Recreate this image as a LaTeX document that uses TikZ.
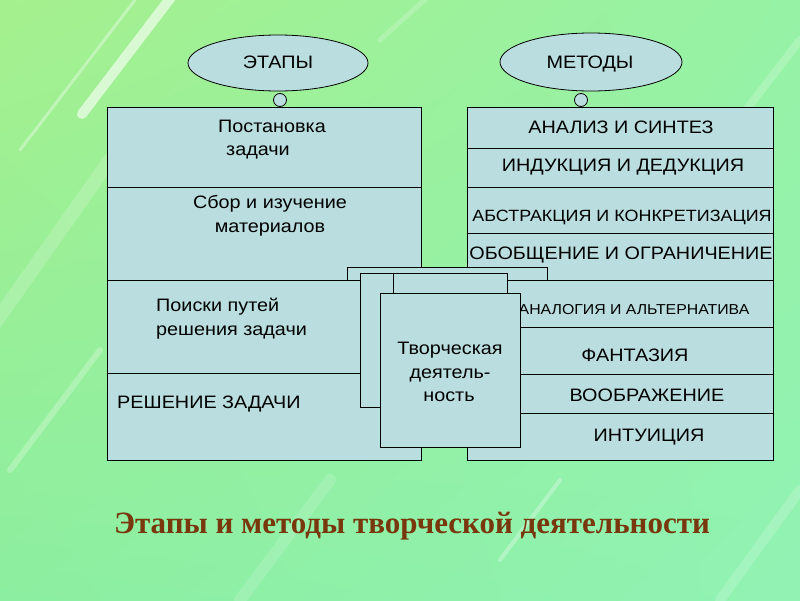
\documentclass[tikz,border=0pt]{standalone}
\usepackage{fontspec}
\setmainfont[FakeStretch=1.1]{Liberation Sans}
\newfontfamily\titlefont{Liberation Serif}
\usetikzlibrary{shapes.geometric,shadings}
\definecolor{boxfill}{RGB}{186,222,224}
\definecolor{bgUL}{RGB}{165,240,142}
\definecolor{bgUR}{RGB}{150,242,165}
\definecolor{bgLL}{RGB}{140,238,160}
\definecolor{bgLR}{RGB}{145,242,180}
\definecolor{titlec}{RGB}{120,55,12}
\tikzset{
  cell/.style={draw=black, fill=boxfill, line width=0.9pt, inner sep=0pt, anchor=north west},
  oval/.style={ellipse, draw=black, fill=boxfill, line width=0.8pt, inner sep=0pt},
  knob/.style={circle, draw=black, fill=boxfill, line width=0.8pt, inner sep=0pt, minimum size=13pt},
  lbl/.style={inner sep=0pt, anchor=base, font=\fontsize{18}{20}\selectfont},
  lblw/.style={lbl, anchor=base west},
  streak/.style={white, line cap=round}
}
\begin{document}
\begin{tikzpicture}[x=1pt,y=-1pt]
\useasboundingbox (0,0) rectangle (800,600);
\shade[upper left=bgUL, upper right=bgUR, lower left=bgLL, lower right=bgLR] (0,0) rectangle (800,600);
% light streaks
\draw[streak, line width=10pt, opacity=0.6] (82,114) -- (172,-4);
\draw[streak, line width=3pt, opacity=0.35] (20,150) -- (135,0);
\draw[streak, line width=14pt, opacity=0.18] (-10,330) -- (110,160);
\draw[streak, line width=6pt, opacity=0.25] (10,470) -- (100,350);
\draw[streak, line width=4pt, opacity=0.3] (500,560) -- (560,480);
\draw[streak, line width=12pt, opacity=0.15] (240,600) -- (330,480);
\draw[streak, line width=8pt, opacity=0.2] (700,170) -- (800,40);
\draw[streak, line width=10pt, opacity=0.18] (720,600) -- (800,490);
\draw[streak, line width=5pt, opacity=0.2] (380,40) -- (430,-5);

% ovals
\node[oval, minimum width=180pt, minimum height=56pt] (etapy) at (278,63) {};
\node[oval, minimum width=182pt, minimum height=58pt] (metody) at (591,62) {};
\node[lbl] at (278,68) {ЭТАПЫ};
\node[lbl] at (590,68) {МЕТОДЫ};

% left column
\node[cell, minimum width=314pt, minimum height=80pt] (l1) at (107,107) {};
\node[cell, minimum width=314pt, minimum height=93pt] (l2) at (107,187) {};
\node[cell, minimum width=314pt, minimum height=93pt] (l3) at (107,280) {};
\node[cell, minimum width=314pt, minimum height=87pt] (l4) at (107,373) {};
\node[lbl] at (272,132) {Постановка};
\node[lbl] at (258,155) {задачи};
\node[lbl] at (270,208) {Сбор и изучение};
\node[lbl] at (270,232) {материалов};
\node[lblw] at (156,311) {Поиски путей};
\node[lblw] at (156,335) {решения задачи};
\node[lblw] at (117,408) {РЕШЕНИЕ ЗАДАЧИ};

% right column
\node[cell, minimum width=306pt, minimum height=41pt] (r1) at (467,107) {};
\node[cell, minimum width=306pt, minimum height=39pt] (r2) at (467,148) {};
\node[cell, minimum width=306pt, minimum height=46pt] (r3) at (467,187) {};
\node[cell, minimum width=306pt, minimum height=47pt] (r4) at (467,233) {};
\node[cell, minimum width=306pt, minimum height=47pt] (r5) at (467,280) {};
\node[cell, minimum width=306pt, minimum height=47pt] (r6) at (467,327) {};
\node[cell, minimum width=306pt, minimum height=39pt] (r7) at (467,374) {};
\node[cell, minimum width=306pt, minimum height=47pt] (r8) at (467,413) {};
\node[lbl] at (621,133) {АНАЛИЗ И СИНТЕЗ};
\node[lbl] at (623,171) {ИНДУКЦИЯ И ДЕДУКЦИЯ};
\node[lbl, font=\fontsize{16.3}{18}\selectfont] at (622,221) {АБСТРАКЦИЯ И КОНКРЕТИЗАЦИЯ};
\node[lbl, font=\fontsize{18}{20}\selectfont] at (621,259) {ОБОБЩЕНИЕ И ОГРАНИЧЕНИЕ};
\node[lbl, font=\fontsize{14.4}{16}\selectfont] at (634,314) {АНАЛОГИЯ И АЛЬТЕРНАТИВА};
\node[lbl] at (635,361) {ФАНТАЗИЯ};
\node[lbl] at (647,401) {ВООБРАЖЕНИЕ};
\node[lbl] at (649,441) {ИНТУИЦИЯ};

% knobs
\node[knob] (k1) at (280,100) {};
\node[knob] (k2) at (581,100) {};

% stacked cards
\node[cell, minimum width=200pt, minimum height=13pt] (s1) at (347,267) {};
\node[cell, minimum width=147pt, minimum height=134pt] (s2) at (360,273) {};
\node[cell, minimum width=114pt, minimum height=30pt] (s3) at (393,273) {};
\node[cell, minimum width=140pt, minimum height=154pt] (s4) at (380,293) {};
\node[lbl] at (450,354) {Творческая};
\node[lbl] at (450,378) {деятель-};
\node[lbl] at (449,401) {ность};

% title
\node[inner sep=0pt, anchor=base, text=titlec, font=\titlefont\bfseries\fontsize{31}{35}\selectfont] (title) at (412,533) {Этапы и методы творческой деятельности};
\end{tikzpicture}
\end{document}
